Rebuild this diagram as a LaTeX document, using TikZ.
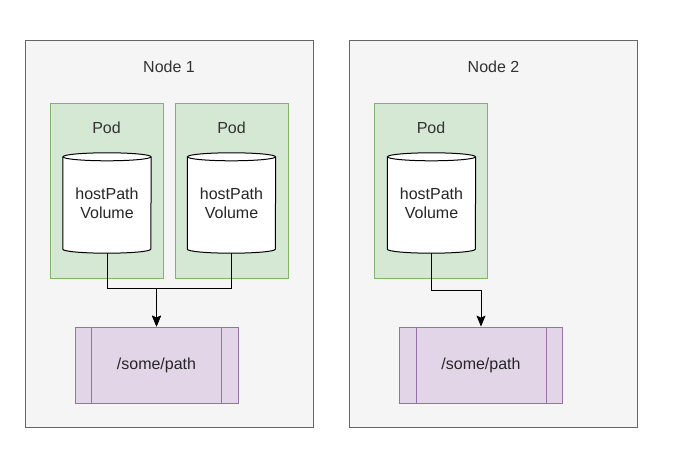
\documentclass[tikz,border=0pt]{standalone}
\usepackage{fontspec}
\setmainfont{Liberation Sans}
\usetikzlibrary{arrows.meta}

\definecolor{hostfill}{HTML}{F5F5F5}
\definecolor{hostline}{HTML}{666666}
\definecolor{hosttext}{HTML}{333333}
\definecolor{podfill}{HTML}{D5E8D4}
\definecolor{podline}{HTML}{82B366}
\definecolor{pathfill}{HTML}{E1D5E7}
\definecolor{pathline}{HTML}{9673A6}

\tikzset{
  hostbox/.style={draw=hostline, fill=hostfill, line width=0.8pt, minimum width=288pt, minimum height=387pt},
  hostlabel/.style={text=hosttext},
  podbox/.style={draw=podline, fill=podfill, line width=0.8pt, minimum width=113pt, minimum height=175pt},
  podlabel/.style={text=hosttext},
  volbody/.style={fill=white, minimum width=88pt, minimum height=92pt, inner sep=0pt, align=center, text=black!85},
  volline/.style={draw=black, line width=1pt},
  pathbox/.style={draw=pathline, fill=pathfill, line width=0.8pt, minimum width=163pt, minimum height=76pt, text=black!85},
  link/.style={line width=1pt, -{Stealth[length=11pt,width=9pt,inset=2pt]}}
}

\begin{document}
\begin{tikzpicture}[x=1pt, y=1pt, font=\fontsize{16}{19}\selectfont]
  \useasboundingbox (0,0) rectangle (689,455);

  % hosts
  \node[hostbox] (node1) at (169,221.5) {};
  \node[hostbox] (node2) at (493.5,221.5) {};
  \node[hostlabel] (node1label) at (169,388) {Node 1};
  \node[hostlabel] (node2label) at (493.5,388) {Node 2};

  % pods
  \node[podbox] (pod1) at (106.5,264.5) {};
  \node[podbox] (pod2) at (231.5,264.5) {};
  \node[podbox] (pod3) at (431,264.5) {};
  \node[podlabel] (pod1label) at (106.5,327) {Pod};
  \node[podlabel] (pod2label) at (231.5,327) {Pod};
  \node[podlabel] (pod3label) at (431,327) {Pod};

  % hostPath volumes
  \node[volbody] (vol1) at (107,252) {hostPath\\Volume};
  \node[volbody] (vol2) at (231.5,252) {hostPath\\Volume};
  \node[volbody] (vol3) at (431.5,252) {hostPath\\Volume};
  \foreach \v in {vol1,vol2,vol3} {
    \fill[white] (\v.south west) arc[start angle=180, end angle=360, x radius=44pt, y radius=4pt] -- cycle;
    \draw[volline] (\v.north west) -- (\v.south west) arc[start angle=180, end angle=360, x radius=44pt, y radius=4pt] -- (\v.north east);
    \draw[volline, fill=white] (\v.north) ellipse [x radius=44pt, y radius=4pt];
  }

  % host paths
  \node[pathbox] (path1) at (156.5,90) {/some/path};
  \node[pathbox] (path2) at (481,90) {/some/path};
  \foreach \p in {path1,path2} {
    \draw[pathline, line width=0.8pt] ([xshift=17pt]\p.north west) -- ([xshift=17pt]\p.south west);
    \draw[pathline, line width=0.8pt] ([xshift=-17pt]\p.north east) -- ([xshift=-17pt]\p.south east);
  }

  % mounts
  \draw[link] ([yshift=-4pt]vol1.south) -- ++(0,-35) -| (path1.north);
  \draw[link] ([yshift=-4pt]vol2.south) -- ++(0,-35) -| (path1.north);
  \draw[link] ([yshift=-4pt]vol3.south) -- ++(0,-37) -| (path2.north);
\end{tikzpicture}
\end{document}
